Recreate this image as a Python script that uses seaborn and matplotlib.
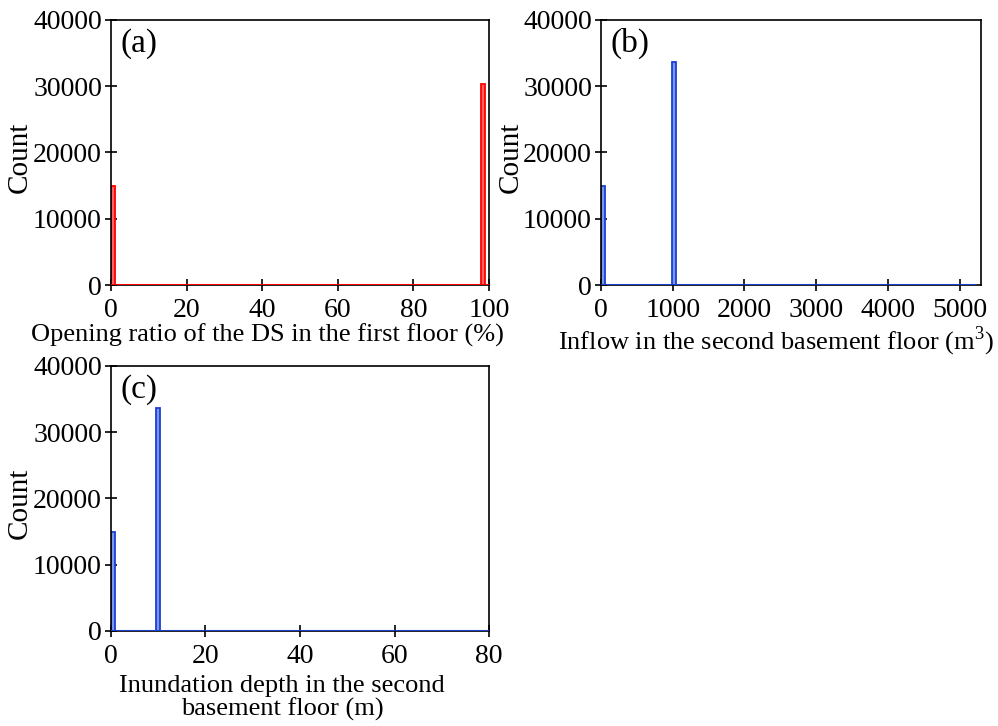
import numpy as np
import pandas as pd
import seaborn as sns
import matplotlib.pyplot as plt

# bin values (where counts are non-zero) and their counts
a_values = [0.5, 98.5]
a_counts = [14900, 30400]
a_range = (0, 100)

b_values = [26, 1018]
b_counts = [15000, 33700]
b_range = (0, 5220)

c_values = [0.4, 10.0]
c_counts = [15000, 33600]
c_range = (0, 80)

n_bins = 100
y_ticks = [0, 10000, 20000, 30000, 40000]

sns.set_style("white")
plt.rcParams['font.family'] = ['Liberation Serif', 'DejaVu Serif']
plt.rcParams['mathtext.fontset'] = 'custom'
plt.rcParams['mathtext.rm'] = 'Liberation Serif'
plt.rcParams['text.color'] = 'black'
plt.rcParams['axes.labelcolor'] = 'black'

fig = plt.figure(figsize=(9.98, 7.26), dpi=100)
ax_a = fig.add_axes([0.1112, 0.6074, 0.3788, 0.3651])
ax_b = fig.add_axes([0.6022, 0.6074, 0.3808, 0.3651])
ax_c = fig.add_axes([0.1112, 0.1309, 0.3788, 0.3651])

red_face, red_edge = '#ff6464', '#ff0000'
blue_face, blue_edge = '#7b98ec', '#1c3fd2'

panels = [
    (ax_a, a_values, a_counts, a_range, red_face, red_edge, '(a)',
     'Opening ratio of the DS in the first floor (%)', [0, 20, 40, 60, 80, 100], (0, 100)),
    (ax_b, b_values, b_counts, b_range, blue_face, blue_edge, '(b)',
     r'Inflow in the second basement floor (m$^{3}$)', [0, 1000, 2000, 3000, 4000, 5000], (0, 5300)),
    (ax_c, c_values, c_counts, c_range, blue_face, blue_edge, '(c)',
     'Inundation depth in the second\nbasement floor (m)', [0, 20, 40, 60, 80], (0, 80)),
]

for ax, vals, cnts, rng, fc, ec, tag, xlab, xt, xlim in panels:
    df = pd.DataFrame({'value': vals, 'count': cnts})
    sns.histplot(data=df, x='value', weights='count',
                 binwidth=(rng[1] - rng[0]) / n_bins, binrange=rng, ax=ax,
                 color=fc, edgecolor=ec, linewidth=1.3, alpha=1.0)
    ax.axhline(0, color=ec, lw=2.2, xmin=0, xmax=(rng[1] - xlim[0]) / (xlim[1] - xlim[0]), zorder=3)
    ax.set_xlim(*xlim)
    ax.set_ylim(0, 40000)
    ax.set_xticks(xt)
    ax.set_yticks(y_ticks)
    ax.tick_params(axis='both', direction='inout', length=9, width=1.2,
                   labelsize=20, colors='black', bottom=True, left=True)
    ax.tick_params(axis='x', pad=5)
    ax.tick_params(axis='y', pad=2)
    ax.set_xlabel(xlab, fontsize=19, linespacing=1.05, va='top')
    ax.set_ylabel('Count', fontsize=21)
    ax.text(0.025, 0.97, tag, transform=ax.transAxes, fontsize=24, va='top', ha='left')
    for sp in ax.spines.values():
        sp.set_color('black')
        sp.set_linewidth(1.2)

ax_a.xaxis.set_label_coords(0.415, -0.145)
ax_b.xaxis.set_label_coords(0.46, -0.15)
ax_c.xaxis.set_label_coords(0.452, -0.165)
ax_a.yaxis.set_label_coords(-0.207, 0.48)
ax_b.yaxis.set_label_coords(-0.203, 0.48)
ax_c.yaxis.set_label_coords(-0.207, 0.48)

fig.savefig('out.png', dpi=100)
